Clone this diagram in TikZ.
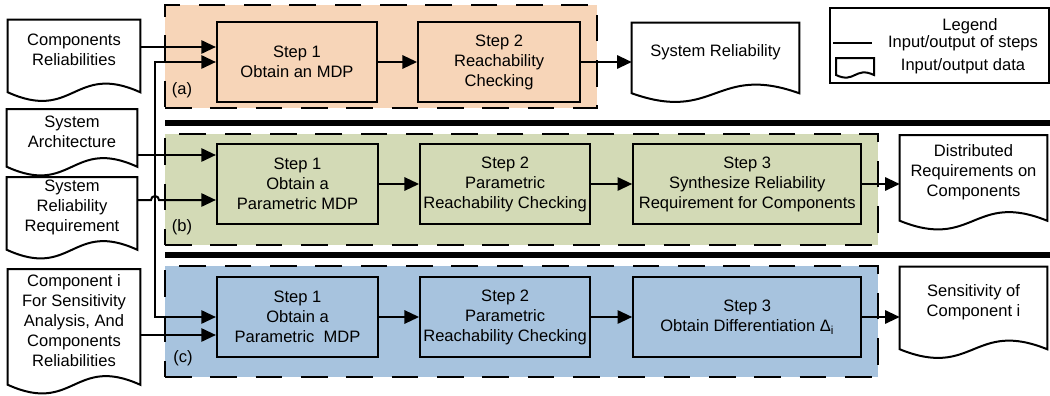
\documentclass[tikz,border=0pt]{standalone}
\usepackage{fontspec}
\setmainfont{Liberation Sans}
\usepackage{tikz}
\usetikzlibrary{calc,arrows.meta}
\definecolor{porange}{HTML}{F7D5B8}
\definecolor{pgreen}{HTML}{D3DAB6}
\definecolor{pblue}{HTML}{A7C3DE}
\newcommand{\pxl}{0.75pt}

\begin{document}
\begin{tikzpicture}[x=0.75pt,y=-0.75pt,
    SB/.style={draw=black,line width=1.6pt,rectangle,minimum height=80*\pxl,align=center,inner sep=0pt},
    DOC/.style={rectangle,align=center,inner sep=0pt},
    DL/.style={draw=black,line width=1.5pt},
    PNL/.style={draw=black,line width=2.1pt,dash pattern=on 20pt off 14pt,rectangle,inner sep=0pt},
    AR/.style={-{Triangle[length=11pt,width=10pt]},line width=1.5pt}]
    \fontsize{12.4}{15}\selectfont
    \useasboundingbox (0,0) rectangle (1050,396);
    % PANELS (a) (b) (c)
    \node[PNL,fill=porange,minimum width=432*\pxl,minimum height=103*\pxl] (pa) at (381,56.5) {};
    \node[PNL,fill=pgreen,minimum width=713*\pxl,minimum height=111*\pxl] (pb) at (521.5,189.5) {};
    \node[PNL,fill=pblue,minimum width=713*\pxl,minimum height=111*\pxl] (pc) at (521.5,321.5) {};
    \node (la) at (182,90) {(a)};
    \node (lb) at (182,227) {(b)};
    \node (lc) at (183,358) {(c)};
    % SEPARATOR BARS
    \draw[line width=5pt] (165,123) -- (1050,123);
    \draw[line width=5pt] (165,255) -- (1050,255);
    % INPUT DATA
    \node[DOC,minimum width=132*\pxl,minimum height=72*\pxl] (cr) at (74,50) {Components\\Reliabilities};
    \node[DOC,minimum width=130*\pxl,minimum height=57*\pxl] (sa) at (72,132) {System\\Architecture};
    \node[DOC,minimum width=130*\pxl,minimum height=72*\pxl] (srr) at (72,207.5) {System\\Reliability\\Requirement};
    \node[DOC,minimum width=132*\pxl,minimum height=115*\pxl] (ci) at (74,321) {Component i\\For Sensitivity\\Analysis, And\\Components\\Reliabilities};
    % OUTPUT DATA
    \node[DOC,minimum width=167*\pxl,minimum height=70*\pxl] (sr) at (715.5,52) {System Reliability};
    \node[DOC,minimum width=147*\pxl,minimum height=85*\pxl] (dr) at (973.5,172) {Distributed\\Requirements on\\Components};
    \node[DOC,minimum width=147*\pxl,minimum height=82*\pxl] (sc) at (973.5,302) {Sensitivity of\\Component i};
    % DOCUMENT OUTLINES
    \foreach \d in {cr,sa,srr,ci,sr,dr,sc}
        \draw[DL] ([yshift=-4.5pt]\d.south west) -- ([yshift=-4.5pt]\d.north west) -- ([yshift=-4.5pt]\d.north east) -- ([yshift=-4.5pt]\d.south east)
            .. controls ($(\d.south)+(0,-24)$) and ($(\d.south)+(0,36)$) .. cycle;
    % STEPS (a)
    \node[SB,fill=porange,minimum width=160*\pxl] (s1a) at (297,62) {Step 1\\Obtain an MDP};
    \node[SB,fill=porange,minimum width=162*\pxl,anchor=west] (s2a) at ($(s1a.east)+(39,0)$) {Step 2\\Reachability\\Checking};
    % STEPS (b)
    \node[SB,fill=pgreen,minimum width=161*\pxl] (s1b) at (297.5,184) {Step 1\\Obtain a\\Parametric MDP};
    \node[SB,fill=pgreen,minimum width=170*\pxl,anchor=west] (s2b) at ($(s1b.east)+(40,0)$) {Step 2\\Parametric\\Reachability Checking};
    \node[SB,fill=pgreen,minimum width=228*\pxl,anchor=west] (s3b) at ($(s2b.east)+(41,0)$) {Step 3\\Synthesize Reliability\\Requirement for Components};
    % STEPS (c)
    \node[SB,fill=pblue,minimum width=161*\pxl] (s1c) at (297.5,317) {Step 1\\Obtain a\\Parametric\ \ MDP};
    \node[SB,fill=pblue,minimum width=170*\pxl,anchor=west] (s2c) at ($(s1c.east)+(40,0)$) {Step 2\\Parametric\\Reachability Checking};
    \node[SB,fill=pblue,minimum width=228*\pxl,anchor=west] (s3c) at ($(s2c.east)+(41,0)$) {Step 3\\Obtain Differentiation Δ\textsubscript{i}};
    % ENTRY POINTS
    \coordinate (in1a) at ($(s1a.west)+(0,-15)$);
    \coordinate (in1b) at ($(s1b.west)+(0,-29)$);
    \coordinate (in2b) at ($(s1b.west)+(0,16)$);
    \coordinate (in2c) at ($(s1c.west)+(0,18)$);
    \coordinate (bus) at (155,0);
    % ARROWS INTO STEP 1
    \draw[AR] (cr.east |- in1a) -- (in1a);
    \draw[AR] (sa.east |- in1b) -- (in1b);
    \draw[AR] (bus |- in1b) |- (s1a.west);
    \draw[AR] (bus |- in1b) |- (s1c.west);
    \draw[AR] (srr.east |- in2b) -- ([xshift=-3pt]bus |- in2b) arc[start angle=180,end angle=0,radius=3pt] -- (in2b);
    \draw[AR] (ci.east |- in2c) -- (in2c);
    % ARROWS BETWEEN STEPS
    \draw[AR] (s1a.east) -- (s2a.west);
    \draw[AR] (s2a.east) -- (s2a.east -| sr.west);
    \draw[AR] (s1b.east) -- (s2b.west);
    \draw[AR] (s2b.east) -- (s3b.west);
    \draw[AR] (s3b.east) -- (s3b.east -| dr.west);
    \draw[AR] (s1c.east) -- (s2c.west);
    \draw[AR] (s2c.east) -- (s3c.west);
    \draw[AR] (s3c.east) -- (s3c.east -| sc.west);
    % LEGEND
    \node[draw=black,line width=1.5pt,minimum width=219*\pxl,minimum height=75*\pxl,inner sep=0pt] (lg) at (939.5,45.5) {};
    \node (lgt) at (970,26) {Legend};
    \node (lgs) at (963,43) {Input/output of steps};
    \node (lgd) at (963,66) {Input/output data};
    \draw[line width=1.5pt] (833,43) -- (872,43);
    \draw[DL] (836,75) -- (836,58) -- (874,58) -- (874,75) .. controls (855,66) and (855,84) .. cycle;
\end{tikzpicture}
\end{document}
